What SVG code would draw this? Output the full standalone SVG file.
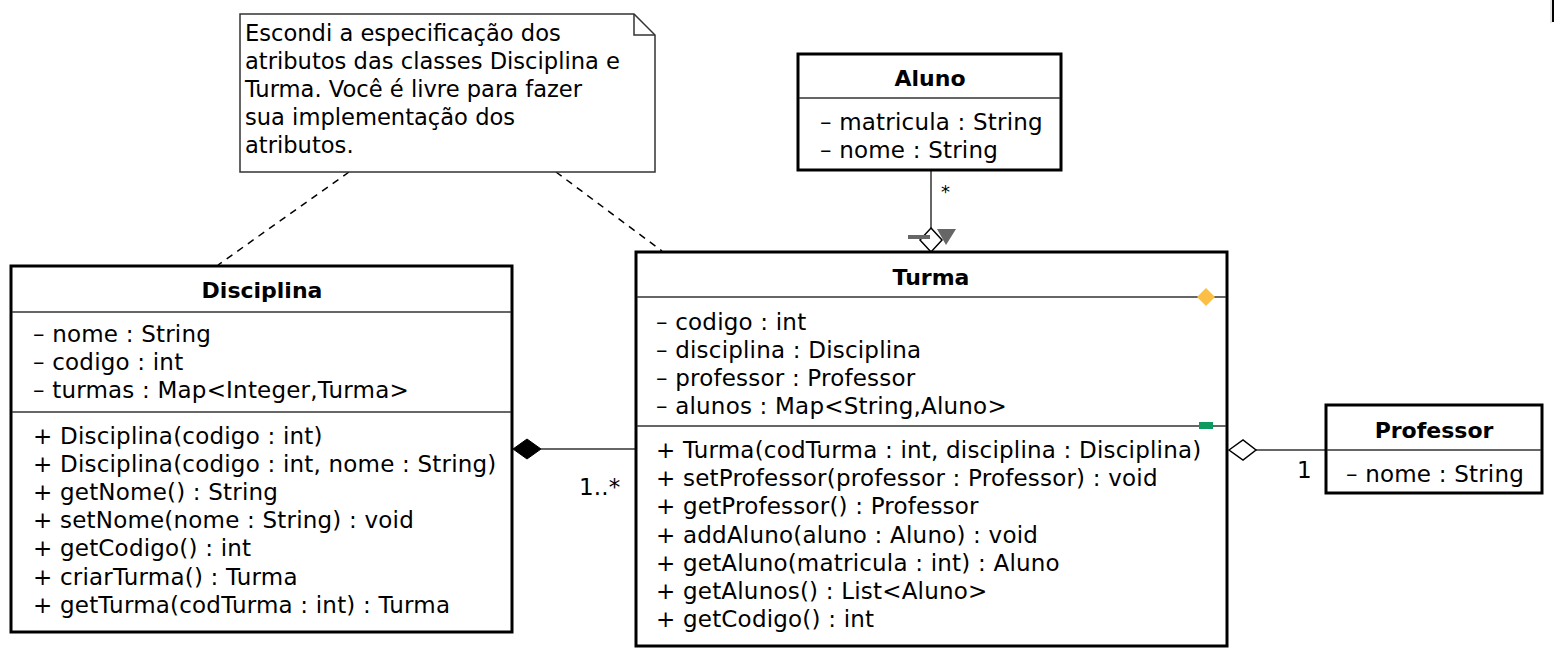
<svg xmlns="http://www.w3.org/2000/svg" width="1554" height="666" viewBox="0 0 1554 666">
<style>
text{font-family:"DejaVu Sans","Liberation Sans",sans-serif;font-size:23px;letter-spacing:0.2px;fill:#000}
.t{font-weight:bold;text-anchor:middle;font-size:22px;letter-spacing:0}
.n{font-size:22.6px;letter-spacing:0}
.box{fill:#fff;stroke:#000;stroke-width:3}
.sep{stroke:#333;stroke-width:1.5}
.con{stroke:#333;stroke-width:1.5;fill:none}
.dash{stroke:#000;stroke-width:1.5;stroke-dasharray:7,6;fill:none}
</style>
<rect width="1554" height="666" fill="#fff"/>
<rect x="1552" y="0" width="2" height="22" fill="#000"/>
<line x1="1551" y1="0" x2="1551" y2="23" stroke="#ccc" stroke-width="1"/>

<g id="connectors">
  <line class="dash" x1="349" y1="172" x2="218" y2="265"/>
  <line class="dash" x1="556" y1="172" x2="662" y2="251"/>
  <line class="con" x1="931" y1="170" x2="931" y2="228"/>
  <polygon points="931,228 942,240 931,252 920,240" fill="#fff" stroke="#000" stroke-width="1.5"/>
  <rect x="908" y="235" width="22" height="4" fill="#666"/>
  <polygon points="937,229 956,229 946,245" fill="#666"/>
  <text x="941" y="198" style="font-size:18px">*</text>
  <line class="con" x1="541" y1="449" x2="636" y2="449"/>
  <polygon points="513,449 527,439 541,449 527,459" fill="#000" stroke="#000" stroke-width="1"/>
  <text x="579" y="495">1..*</text>
  <line class="con" x1="1256" y1="450" x2="1326" y2="450"/>
  <polygon points="1229,450 1243,440 1256,450 1243,460" fill="#fff" stroke="#000" stroke-width="1.5"/>
  <text x="1297" y="478">1</text>
</g>

<g id="note">
  <path d="M240,14 H634 L655,35 V172 H240 Z" fill="#fff" stroke="#333" stroke-width="1.5"/>
  <path d="M634,14 V35 H655" fill="none" stroke="#333" stroke-width="1.5"/>
  <text class="n" x="245" y="41">Escondi a especificação dos</text>
  <text class="n" x="245" y="69">atributos das classes Disciplina e</text>
  <text class="n" x="245" y="97">Turma. Você é livre para fazer</text>
  <text class="n" x="245" y="125">sua implementação dos</text>
  <text class="n" x="245" y="153">atributos.</text>
</g>

<g id="aluno">
  <rect class="box" x="798" y="54" width="263" height="116"/>
  <line class="sep" x1="799" y1="98" x2="1060" y2="98"/>
  <text class="t" x="930" y="86">Aluno</text>
  <text x="820" y="130">– matricula : String</text>
  <text x="820" y="158">– nome : String</text>
</g>

<g id="disciplina">
  <rect class="box" x="11" y="266" width="501" height="366"/>
  <line class="sep" x1="12" y1="312" x2="511" y2="312"/>
  <line class="sep" x1="12" y1="412" x2="511" y2="412"/>
  <text class="t" x="262" y="298">Disciplina</text>
  <text x="33" y="342">– nome : String</text>
  <text x="33" y="370">– codigo : int</text>
  <text x="33" y="398">– turmas : Map&lt;Integer,Turma&gt;</text>
  <text x="33" y="444">+ Disciplina(codigo : int)</text>
  <text x="33" y="472">+ Disciplina(codigo : int, nome : String)</text>
  <text x="33" y="500">+ getNome() : String</text>
  <text x="33" y="528">+ setNome(nome : String) : void</text>
  <text x="33" y="556">+ getCodigo() : int</text>
  <text x="33" y="585">+ criarTurma() : Turma</text>
  <text x="33" y="613">+ getTurma(codTurma : int) : Turma</text>
</g>

<g id="turma">
  <rect class="box" x="636" y="252" width="591" height="394"/>
  <line class="sep" x1="637" y1="297" x2="1226" y2="297"/>
  <line class="sep" x1="637" y1="426" x2="1226" y2="426"/>
  <text class="t" x="931" y="285">Turma</text>
  <text x="656" y="330">– codigo : int</text>
  <text x="656" y="358">– disciplina : Disciplina</text>
  <text x="656" y="386">– professor : Professor</text>
  <text x="656" y="414">– alunos : Map&lt;String,Aluno&gt;</text>
  <text x="656" y="458">+ Turma(codTurma : int, disciplina : Disciplina)</text>
  <text x="656" y="486">+ setProfessor(professor : Professor) : void</text>
  <text x="656" y="514">+ getProfessor() : Professor</text>
  <text x="656" y="543">+ addAluno(aluno : Aluno) : void</text>
  <text x="656" y="571">+ getAluno(matricula : int) : Aluno</text>
  <text x="656" y="599">+ getAlunos() : List&lt;Aluno&gt;</text>
  <text x="656" y="627">+ getCodigo() : int</text>
  <polygon points="1206,288 1215,297 1206,306 1197,297" fill="#FBBF45"/>
  <rect x="1199" y="422" width="14" height="7" fill="#0E9A5E"/>
</g>

<g id="professor">
  <rect class="box" x="1326" y="405" width="216" height="88"/>
  <line class="sep" x1="1327" y1="450" x2="1541" y2="450"/>
  <text class="t" x="1434" y="438">Professor</text>
  <text x="1346" y="482">– nome : String</text>
</g>
</svg>
